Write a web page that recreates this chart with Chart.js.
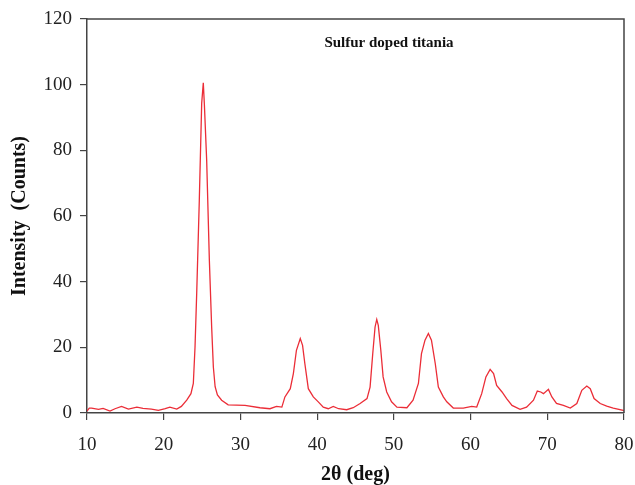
<!DOCTYPE html>
<html lang="en">
<head>
  <meta charset="UTF-8" />
  <title>Sulfur doped titania XRD</title>
  <script src="https://cdn.jsdelivr.net/npm/chart.js"></script>
  <style>
    html, body { margin: 0; padding: 0; background: #fff; }
    #wrap { width: 635px; height: 485px; }
  </style>
</head>
<body>
  <div id="wrap"><canvas id="xrd"></canvas></div>
  <script>
    const twoTheta = [10.0, 10.3, 10.6, 11.5, 12.1, 13.0, 13.65, 14.5, 15.4, 16.5, 17.3, 18.4, 19.3, 20.2, 20.8, 21.7, 22.3,
      23.0, 23.55, 23.86, 24.08, 24.3, 24.64, 24.95, 25.16, 25.3, 25.6, 25.95, 26.25, 26.47, 26.7, 27.0, 27.55, 28.4,
      30.6, 32.55, 33.85, 34.7, 35.4, 35.8, 36.5, 36.9, 37.3, 37.8, 38.1, 38.4, 38.85, 39.5, 40.15, 40.8, 41.45, 42.1,
      42.8, 43.85, 44.7, 45.6, 46.5, 46.9, 47.25, 47.55, 47.77, 47.97, 48.3, 48.6, 49.07, 49.7, 50.4, 51.7, 52.5, 53.2,
      53.6, 54.06, 54.5, 54.9, 55.4, 55.8, 56.45, 56.9, 57.75, 59.05, 60.15, 60.8, 61.45, 62.0, 62.55, 63.0, 63.4, 64.1,
      64.7, 65.4, 66.45, 67.3, 68.2, 68.7, 69.15, 69.5, 70.15, 70.6, 71.2, 72.1, 73.0, 73.85, 74.5, 75.15, 75.6, 76.1,
      76.9, 77.75, 78.6, 79.9, 80.0];
    const counts = [0.6, 1.5, 1.5, 1.1, 1.4, 0.6, 1.3, 2.0, 1.2, 1.8, 1.4, 1.2, 0.8, 1.3, 1.8, 1.2, 2.0,
      3.9, 5.9, 9, 20, 36.5, 64.8, 94.3, 100.6, 94, 77, 46.5, 26.2, 14, 8, 5.5, 3.9, 2.5,
      2.3, 1.6, 1.3, 2.0, 1.8, 4.9, 7.4, 12, 19.1, 22.7, 20.6, 15, 7.4, 4.9, 3.4, 1.8, 1.3, 2.0,
      1.3, 1.0, 1.6, 2.9, 4.4, 7.9, 18.1, 26.2, 28.5, 26.7, 19.1, 11, 6.4, 3.4, 1.8, 1.6, 3.9, 9,
      18.1, 22.2, 24.2, 22.2, 15, 7.9, 4.9, 3.4, 1.5, 1.5, 2.0, 1.8, 5.9, 11, 13.3, 12, 8.4, 6.4,
      4.4, 2.3, 1.1, 1.8, 3.9, 6.7, 6.4, 5.9, 7.2, 4.9, 2.9, 2.3, 1.5, 2.9, 6.9, 8.2, 7.4, 4.4,
      2.9, 2.1, 1.5, 0.8, 0.6];
    const seriesName = 'Sulfur doped titania';
    const xTitle = '2θ (deg)';
    const yTitle = 'Intensity  (Counts)';

    const serif = '"Liberation Serif", "DejaVu Serif", serif';
    const axisColor = '#444';

    // frame on top/right and the label inside the plot
    const frameAndLabel = {
      id: 'frameAndLabel',
      afterDraw(chart) {
        const { ctx, chartArea: a } = chart;
        ctx.save();
        ctx.strokeStyle = axisColor;
        ctx.lineWidth = 1.5;
        ctx.beginPath();
        ctx.moveTo(a.left, a.top);
        ctx.lineTo(a.right, a.top);
        ctx.lineTo(a.right, a.bottom);
        ctx.stroke();
        ctx.fillStyle = '#111';
        ctx.font = 'bold 15px ' + serif;
        ctx.textAlign = 'center';
        ctx.textBaseline = 'middle';
        ctx.fillText(seriesName, 389, 43);
        ctx.restore();
      }
    };

    new Chart(document.getElementById('xrd'), {
      type: 'scatter',
      data: {
        datasets: [{
          label: seriesName,
          data: twoTheta.map((t, i) => ({ x: t, y: counts[i] })),
          showLine: true,
          borderColor: 'rgb(235, 45, 55)',
          borderWidth: 1.3,
          pointRadius: 0,
          tension: 0
        }]
      },
      options: {
        responsive: true,
        maintainAspectRatio: false,
        animation: false,
        layout: { padding: { top: 19, right: 11, left: 0, bottom: 0 } },
        plugins: { legend: { display: false }, tooltip: { enabled: false } },
        scales: {
          x: {
            type: 'linear',
            min: 10, max: 80,
            border: { color: axisColor, width: 1.5 },
            grid: { drawOnChartArea: false, color: axisColor, tickLength: 7, lineWidth: 1.2 },
            ticks: { stepSize: 10, color: '#222', font: { family: serif, size: 19 }, padding: 14, maxRotation: 0 },
            title: { display: true, text: xTitle, color: '#111', font: { family: serif, size: 20, weight: 'bold', lineHeight: 1 }, padding: { top: 0, bottom: 0 } },
            afterFit(s) { s.height = 72; s.paddingLeft = 0; s.paddingRight = 0; }
          },
          y: {
            min: 0, max: 120,
            border: { color: axisColor, width: 1.5 },
            grid: { drawOnChartArea: false, color: axisColor, tickLength: 7, lineWidth: 1.2 },
            ticks: { stepSize: 20, color: '#222', font: { family: serif, size: 19 }, padding: 8 },
            title: { display: true, text: yTitle, color: '#111', font: { family: serif, size: 20, weight: 'bold', lineHeight: 1 }, padding: { top: 10, bottom: 0 } },
            afterFit(s) { s.width = 87; s.paddingTop = 0; s.paddingBottom = 0; }
          }
        }
      },
      plugins: [frameAndLabel]
    });
  </script>
</body>
</html>
